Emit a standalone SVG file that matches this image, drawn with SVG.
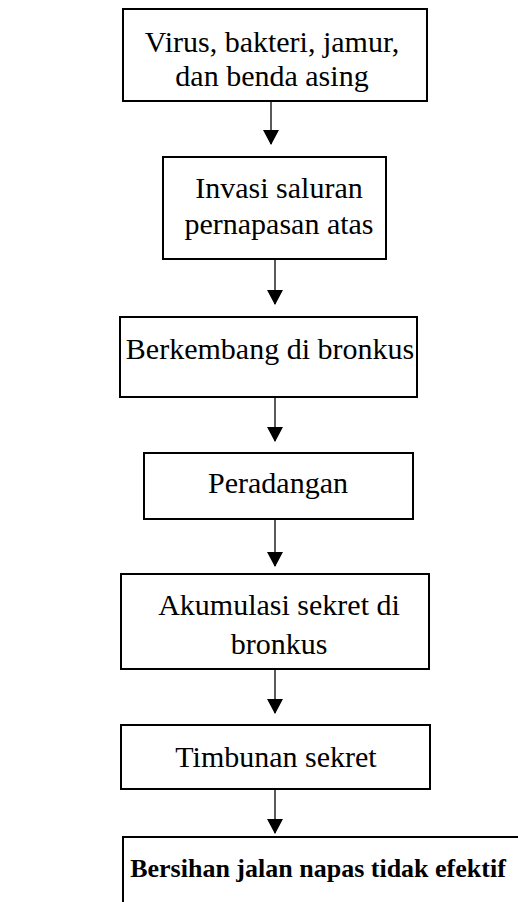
<svg xmlns="http://www.w3.org/2000/svg" width="518" height="902" viewBox="0 0 518 902">
<style>
.box{fill:#fff;stroke:#000;stroke-width:2}
.t{font-family:"Liberation Serif","Times New Roman",serif;font-size:30px;fill:#000;text-anchor:middle}
.b{font-family:"Liberation Serif","Times New Roman",serif;font-size:26px;font-weight:bold;fill:#000;text-anchor:middle}
.c{stroke:#000;stroke-width:1.3;fill:none;marker-end:url(#ah)}
</style>
<defs>
<marker id="ah" markerWidth="16" markerHeight="16" refX="14" refY="8" orient="auto" markerUnits="userSpaceOnUse" viewBox="0 0 16 16">
<path d="M0,0 L15,8 L0,16 Z" fill="#000"/>
</marker>
</defs>
<rect width="518" height="902" fill="#fff"/>
<g id="connectors">
<path class="c" d="M271,101 V144"/>
<path class="c" d="M275,259 V304"/>
<path class="c" d="M275,397 V441"/>
<path class="c" d="M275,519 V566"/>
<path class="c" d="M275,669 V713"/>
<path class="c" d="M275,789 V833"/>
</g>
<g id="n1"><rect class="box" x="123" y="9" width="304" height="92"/>
<text class="t" x="272" y="52">Virus, bakteri, jamur,</text>
<text class="t" x="272" y="86">dan benda asing</text></g>
<g id="n2"><rect class="box" x="163" y="157" width="223" height="102"/>
<text class="t" x="279" y="198">Invasi saluran</text>
<text class="t" x="279" y="234">pernapasan atas</text></g>
<g id="n3"><rect class="box" x="120" y="317" width="297" height="80"/>
<text class="t" x="270" y="359">Berkembang di bronkus</text></g>
<g id="n4"><rect class="box" x="144" y="453" width="269" height="66"/>
<text class="t" x="278" y="493">Peradangan</text></g>
<g id="n5"><rect class="box" x="121" y="574" width="308" height="95"/>
<text class="t" x="279" y="615">Akumulasi sekret di</text>
<text class="t" x="279" y="654">bronkus</text></g>
<g id="n6"><rect class="box" x="121" y="725" width="309" height="64"/>
<text class="t" x="276" y="767">Timbunan sekret</text></g>
<g id="n7"><path d="M520,837 H123 V904" fill="none" stroke="#000" stroke-width="2"/>
<text class="b" x="318" y="877">Bersihan jalan napas tidak efektif</text></g>
</svg>
